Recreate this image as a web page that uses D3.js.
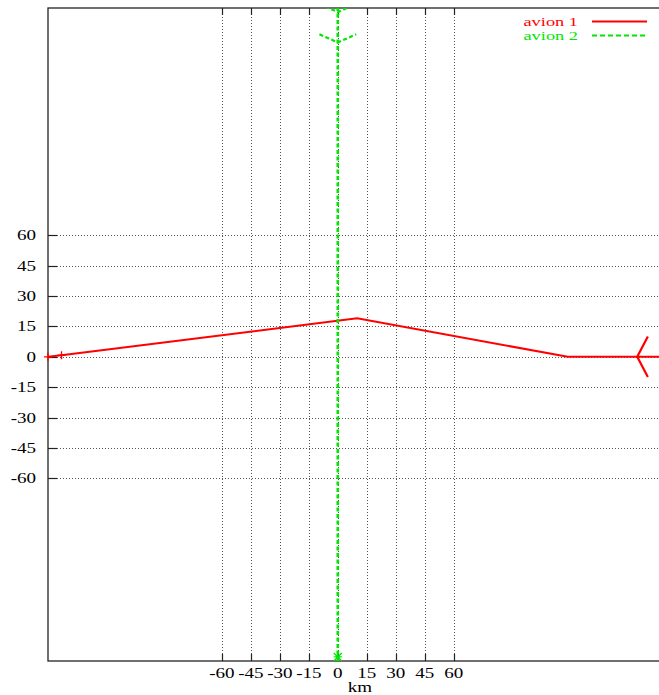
<!DOCTYPE html>
<html><head><meta charset="utf-8">
<script src="https://cdn.jsdelivr.net/npm/d3@7"></script>
<style>html,body{margin:0;padding:0;background:#fff;}</style>
</head><body>
<script>
// ---- data ----
const xTicks = [-60,-45,-30,-15,0,15,30,45,60];
const yTicks = [60,45,30,15,0,-15,-30,-45,-60];
const xDomain = [-150,173];
const yDomain = [-150,172];
const seriesNames = ["avion 1","avion 2"];
const seriesColors = ["#ff0000","#00e600"];
const avion1 = [[-150,0],[-143,0.8],[10,19],[119,0],[173,0]];
const avion1Marks = [[-150,0],[-143,0.8]];
const avion1Arrows = [[155,0],[170,0]];
const avion1Arm = [[5.5,10],[5.5,-10]];
const avion2 = [[0,-150],[0,173]];
const avion2Marks = [[0,-148]];
const avion2Arrows = [[0,155],[0,170]];
const avion2Arm = [[-9.5,4],[9.5,4]];
const xLabel = "km";

// ---- layout ----
const W = 659, H = 695;
const L = 48, R = 672, T = 8, B = 661;
const SX = 1.36; // horizontal text stretch
const font = "'Liberation Serif','Times New Roman',serif";

const svg = d3.select("body").append("svg").attr("width",W).attr("height",H);
const x = d3.scaleLinear().domain(xDomain).range([L,R]);
const y = d3.scaleLinear().domain(yDomain).range([B,T]);

svg.append("defs").append("clipPath").attr("id","clip")
  .append("rect").attr("x",L).attr("y",T).attr("width",R-L).attr("height",B-T);

// grid
const grid = svg.append("g").attr("stroke","#555").attr("stroke-width",1).attr("stroke-dasharray","1,2");
grid.selectAll("line.gx").data(xTicks).join("line").attr("class","gx")
  .attr("x1",d=>Math.round(x(d))+0.5).attr("x2",d=>Math.round(x(d))+0.5).attr("y1",T).attr("y2",B);
grid.selectAll("line.gy").data(yTicks).join("line").attr("class","gy")
  .attr("y1",d=>Math.round(y(d))+0.5).attr("y2",d=>Math.round(y(d))+0.5).attr("x1",L).attr("x2",R);

// tick marks (inward, mirrored)
const tk = svg.append("g").attr("stroke","#222").attr("stroke-width",1.2);
xTicks.forEach(d=>{
  const px = Math.round(x(d))+0.5;
  tk.append("line").attr("x1",px).attr("x2",px).attr("y1",B).attr("y2",B-7);
  tk.append("line").attr("x1",px).attr("x2",px).attr("y1",T).attr("y2",T+7);
});
yTicks.forEach(d=>{
  const py = Math.round(y(d))+0.5;
  tk.append("line").attr("x1",L).attr("x2",L+9).attr("y1",py).attr("y2",py);
});

// frame
svg.append("rect").attr("x",L).attr("y",T).attr("width",R-L).attr("height",B-T)
  .attr("fill","none").attr("stroke","#222").attr("stroke-width",1.3);

// tick labels
function stext(g, tx, ty, str, anchor, color, size){
  g.append("text").attr("transform",`translate(${tx},${ty}) scale(${SX},1)`)
   .attr("text-anchor",anchor).attr("font-family",font).attr("font-size",size||14)
   .attr("fill",color||"#000").text(str);
}
const lab = svg.append("g");
xTicks.forEach(d=>stext(lab, x(d), 678, String(d), "middle"));
yTicks.forEach(d=>stext(lab, 36, y(d)+5, String(d), "end"));
stext(lab, (L+R)/2, 692, xLabel, "middle");

// data
const plot = svg.append("g").attr("clip-path","url(#clip)");
const line = d3.line().x(d=>x(d[0])).y(d=>y(d[1]));

plot.append("path").datum(avion1).attr("d",line).attr("fill","none")
  .attr("stroke",seriesColors[0]).attr("stroke-width",2);
plot.append("path").datum(avion2).attr("d",line).attr("fill","none")
  .attr("stroke",seriesColors[1]).attr("stroke-width",2.6).attr("stroke-dasharray","4,2.5");

// arrows
avion1Arrows.forEach(a=>{
  plot.append("path").datum([[a[0]+avion1Arm[0][0],a[1]+avion1Arm[0][1]],a,[a[0]+avion1Arm[1][0],a[1]+avion1Arm[1][1]]])
    .attr("d",line).attr("fill","none").attr("stroke",seriesColors[0]).attr("stroke-width",2.2);
});
avion2Arrows.forEach(a=>{
  plot.append("path").datum([[a[0]+avion2Arm[0][0],a[1]+avion2Arm[0][1]],a,[a[0]+avion2Arm[1][0],a[1]+avion2Arm[1][1]]])
    .attr("d",line).attr("fill","none").attr("stroke",seriesColors[1]).attr("stroke-width",2.2).attr("stroke-dasharray","4,2.5");
});

// markers (not clipped)
avion1Marks.forEach(p=>{
  const px=x(p[0]), py=y(p[1]), s=4;
  svg.append("path").attr("d",`M${px-s},${py}H${px+s}M${px},${py-s}V${py+s}`)
    .attr("stroke",seriesColors[0]).attr("stroke-width",1.3);
});
avion2Marks.forEach(p=>{
  const px=x(p[0]), py=y(p[1]), s=4;
  svg.append("path").attr("d",`M${px-s},${py}H${px+s}M${px},${py-s}V${py+s}M${px-s},${py-s}L${px+s},${py+s}M${px-s},${py+s}L${px+s},${py-s}`)
    .attr("stroke",seriesColors[1]).attr("stroke-width",1.3);
});

// legend
const leg = svg.append("g");
seriesNames.forEach((n,i)=>{
  const ly = 21.5 + i*14;
  stext(leg, 578, ly+4.5, n, "end", seriesColors[i], 13.5);
  leg.append("line").attr("x1",592).attr("x2",647).attr("y1",ly).attr("y2",ly)
    .attr("stroke",seriesColors[i]).attr("stroke-width",2)
    .attr("stroke-dasharray", i===1 ? "5,3" : null);
});
</script>
</body></html>
